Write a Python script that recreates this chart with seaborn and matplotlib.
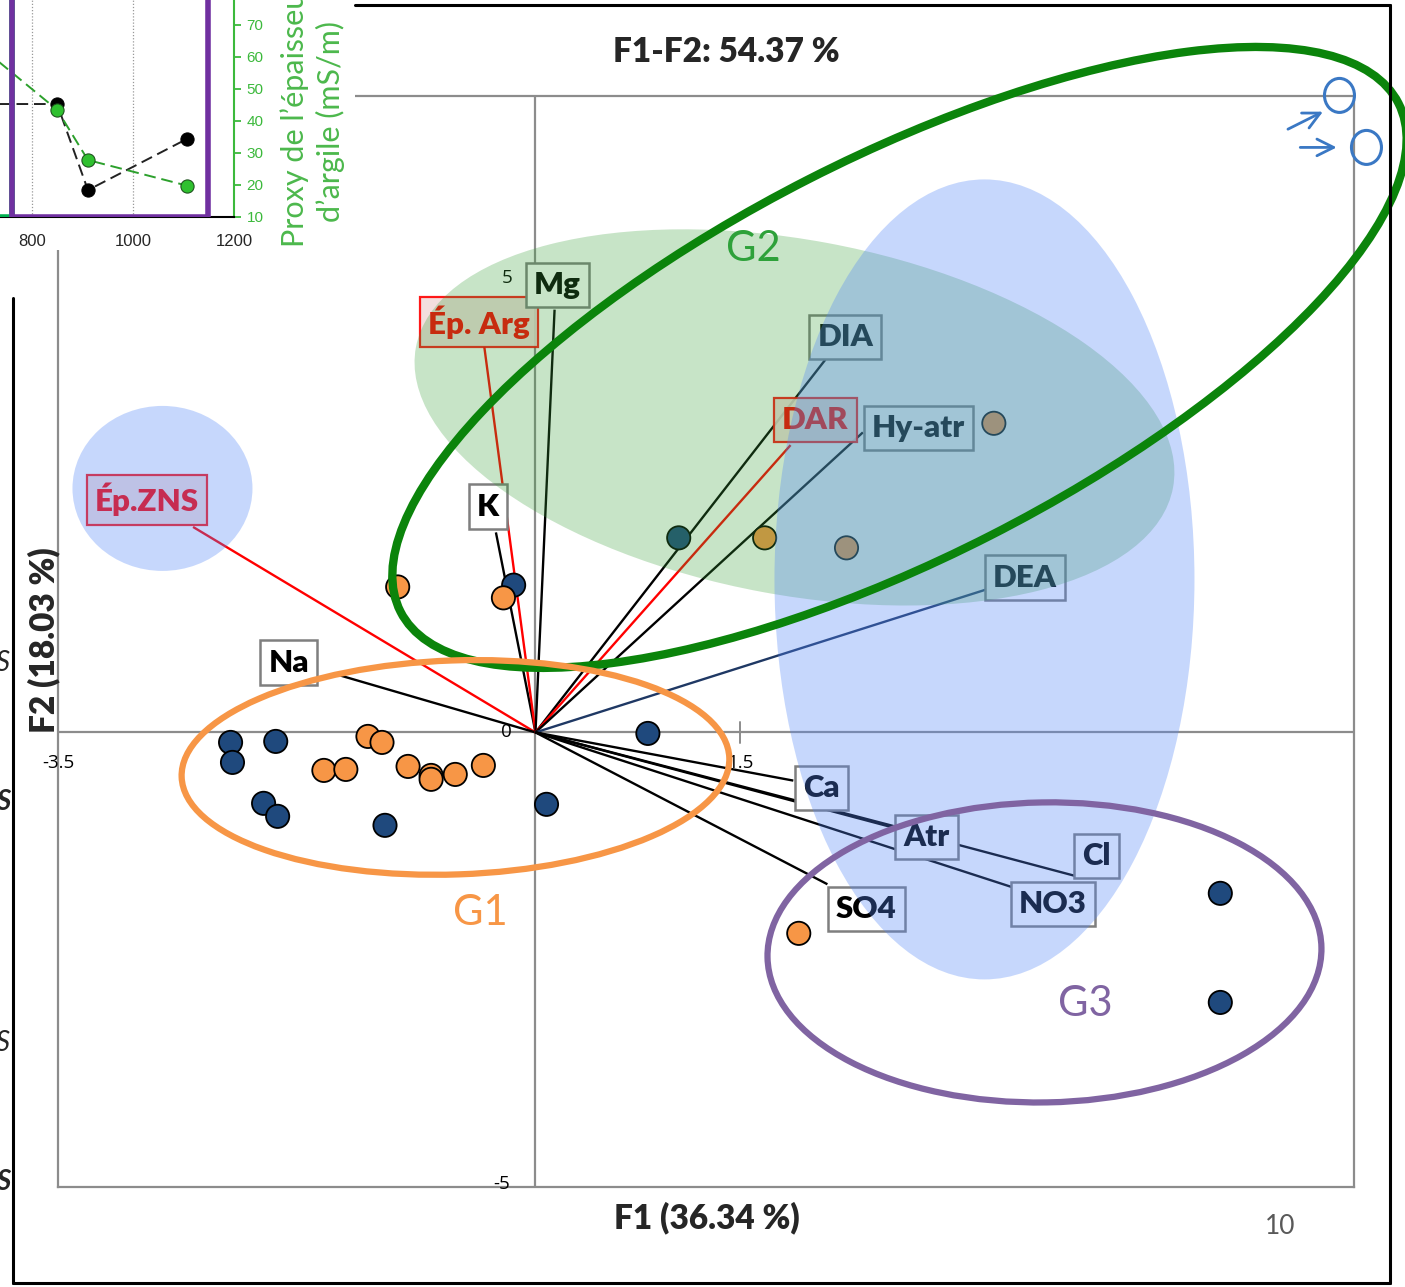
import numpy as np
import pandas as pd
import matplotlib
matplotlib.use("Agg")
import matplotlib.pyplot as plt
from matplotlib.patches import Ellipse, Rectangle
from matplotlib.transforms import Affine2D
from matplotlib.lines import Line2D
import seaborn as sns

# ---------------- PCA biplot data ----------------
# observation scores (F1, F2)
navy_f1 = [-2.235, -2.221, -1.904, -1.993, -1.890, -1.103, 0.081, 0.824, 1.05, -0.16, 5.02, 5.02]
navy_f2 = [-0.11, -0.33, -0.099, -0.78, -0.923, -1.022, -0.791, -0.011, 2.14, 1.62, -1.77, -2.97]
orange_f1 = [-1.01, -0.235, -1.228, -1.125, -1.551, -1.39, -0.934, -0.765, -0.765, -0.588, -0.382,
             1.68, 2.28, 3.36, 1.93]
orange_f2 = [1.60, 1.48, -0.044, -0.11, -0.418, -0.407, -0.374, -0.473, -0.516, -0.462, -0.363,
             2.14, 2.03, 3.40, -2.21]

# variable loadings (vector tips)
variables = ["Ép.ZNS", "Na", "K", "Ép. Arg", "Mg", "DIA", "DAR", "Hy-atr", "DEA",
             "Ca", "Atr", "Cl", "NO3", "SO4"]
load_f1 = [-2.51, -1.44, -0.29, -0.375, 0.14, 2.125, 1.87, 2.40, 3.30, 1.89, 2.625, 3.96, 3.49, 2.14]
load_f2 = [2.26, 0.63, 2.20, 4.24, 4.65, 4.10, 3.16, 3.30, 1.57, -0.53, -1.03, -1.58, -1.70, -1.67]
red_vars = {"Ép.ZNS", "Ép. Arg", "DAR"}
navy_vars = {"DEA"}

# label anchor points for the variable names
label_f1 = [-2.846, -1.809, -0.346, -0.412, 0.162, 2.272, 2.051, 2.809, 3.588, 2.096, 2.868, 4.110, 3.794, 2.426]
label_f2 = [2.560, 0.769, 2.484, 4.516, 4.923, 4.352, 3.440, 3.352, 1.703, -0.615, -1.154, -1.363, -1.890, -1.945]

title = "F1-F2: 54.37 %"
xlabel = "F1 (36.34 %)"
ylabel = "F2 (18.03 %)"

# ---------------- inset profile data ----------------
inset_x = [700, 850, 911, 1107]
inset_green = [63, 43.5, 27.8, 19.8]
inset_black = [45.3, 45.3, 18.4, 34.4]
inset_xticks = [800, 1000, 1200]
inset_yticks = [10, 20, 30, 40, 50, 60, 70]

sns.set_style("white")
plt.rcParams["font.family"] = ["Lato", "DejaVu Sans"]

W, H = 1405, 1287
fig = plt.figure(figsize=(W / 100, H / 100), dpi=100)


def fx(px):
    return px / W


def fy(py):
    return 1 - py / H


# ---------------- main biplot ----------------
x0, x1, y0, y1 = 58, 1354, 96, 1187
ax = fig.add_axes([fx(x0), fy(y1), fx(x1) - fx(x0), fy(y0) - fy(y1)])
xmin, xmax, ymin, ymax = -3.5, 6, -5, 7
ax.set_xlim(xmin, xmax)
ax.set_ylim(ymin, ymax)
ax.set_xticks([])
ax.set_yticks([])
for s in ax.spines.values():
    s.set_color("#8c8c8c")
    s.set_linewidth(1.6)

ax.axhline(0, color="#8c8c8c", lw=1.6, zorder=1)
ax.axvline(0, color="#8c8c8c", lw=1.6, zorder=1)
ax.plot([1.5, 1.5], [-0.12, 0.12], color="#8c8c8c", lw=1.4, zorder=1)

tick_kw = dict(fontsize=13.5, color="black", ha="center", va="center",
               family=["Open Sans", "DejaVu Sans"], zorder=3)
ax.text(-3.5, -0.34, "-3.5", **tick_kw)
ax.text(-0.21, 0.0, "0", **tick_kw)
ax.text(1.5, -0.34, "1.5", **tick_kw)
ax.text(-0.21, 5.0, "5", **tick_kw)
ax.text(-0.25, -4.97, "-5", **tick_kw)

# pixel-geometry helper so ellipses keep their on-screen shape
sx = (x1 - x0) / (xmax - xmin)
sy = (y1 - y0) / (ymax - ymin)
pix = Affine2D().scale(1 / sx, 1 / sy) + ax.transData


def px_ellipse(cx, cy, w, h, angle=0, **kw):
    e = Ellipse((cx * sx, cy * sy), w, h, angle=angle, transform=pix, **kw)
    ax.add_patch(e)
    return e


# variable vectors
for v, a, b in zip(variables, load_f1, load_f2):
    col = "#ff0000" if v in red_vars else ("#1f3864" if v in navy_vars else "black")
    ax.plot([0, a], [0, b], color=col, lw=1.7, zorder=2, solid_capstyle="butt")

# variable labels
for v, a, b in zip(variables, label_f1, label_f2):
    if v in red_vars:
        box = dict(boxstyle="square,pad=0.26", fc="#f2dcdb", ec="#ff0000", lw=1.6, alpha=0.9)
        tc = "#ff0000"
    else:
        box = dict(boxstyle="square,pad=0.26", fc="white", ec="#7f7f7f", lw=1.8)
        tc = "black"
    ax.text(a, b, v, fontsize=22.5, fontweight="heavy", color=tc, ha="center", va="center",
            bbox=box, zorder=3)

# observations
obs = pd.DataFrame({
    "F1": navy_f1 + orange_f1,
    "F2": navy_f2 + orange_f2,
    "type": ["navy"] * len(navy_f1) + ["orange"] * len(orange_f1),
})
sns.scatterplot(data=obs, x="F1", y="F2", hue="type",
                palette={"navy": "#1f497d", "orange": "#f79646"},
                s=280, edgecolor="black", linewidth=1.3, legend=False, ax=ax, zorder=4)
ax.set_xlabel("")
ax.set_ylabel("")

# shaded zones
px_ellipse((795 - 536) / sx, (733 - 418) / sy, 770, 355, angle=-10.5,
           fc=(0.22, 0.62, 0.22), alpha=0.28, lw=0, zorder=5)
px_ellipse((985 - 536) / sx, (733 - 580) / sy, 420, 800, angle=0,
           fc=(0.33, 0.53, 0.97), alpha=0.33, lw=0, zorder=5)
px_ellipse((163 - 536) / sx, (733 - 489) / sy, 180, 165, angle=0,
           fc=(0.33, 0.53, 0.97), alpha=0.33, lw=0, zorder=5)

# group outlines
px_ellipse((900 - 536) / sx, (733 - 358) / sy, 1120, 400, angle=27,
           fc="none", ec="#0b840b", lw=6, zorder=6, clip_on=False)
px_ellipse((456 - 536) / sx, (733 - 768) / sy, 548, 214, angle=2,
           fc="none", ec="#f79646", lw=4.5, zorder=6, clip_on=False)
px_ellipse((1045 - 536) / sx, (733 - 953) / sy, 554, 300, angle=1,
           fc="none", ec="#8064a2", lw=4.5, zorder=6, clip_on=False)

ax.text((481 - 536) / sx, (733 - 914) / sy, "G1", fontsize=30, color="#f79646",
        ha="center", va="center", zorder=7)
ax.text((754 - 536) / sx, (733 - 250) / sy, "G2", fontsize=30, color="#2ea13a",
        ha="center", va="center", zorder=7)
ax.text((1086 - 536) / sx, (733 - 1005) / sy, "G3", fontsize=30, color="#8064a2",
        ha="center", va="center", zorder=7)

# hand-drawn markers in the top-right corner
blue = "#3a78c4"
px_ellipse((1340 - 536) / sx, (733 - 96) / sy, 30, 34, fc="none", ec=blue, lw=2.2,
           zorder=7, clip_on=False)
px_ellipse((1367 - 536) / sx, (733 - 148) / sy, 30, 34, fc="none", ec=blue, lw=2.2,
           zorder=7, clip_on=False)
for (ax0, ay0), (ax1, ay1) in [((1286, 131), (1326, 111)), ((1298, 148), (1340, 148))]:
    ax.annotate("", xy=((ax1 - 536) / sx, (733 - ay1) / sy),
                xytext=((ax0 - 536) / sx, (733 - ay0) / sy),
                arrowprops=dict(arrowstyle="->", color=blue, lw=2.0, mutation_scale=30),
                annotation_clip=False, zorder=7)

ax.text(0.516, 1.0403, title, transform=ax.transAxes, fontsize=24, fontweight="heavy",
        ha="center", va="center")
ax.text(0.5008, -0.0284, xlabel, transform=ax.transAxes, fontsize=24, fontweight="heavy",
        ha="center", va="center")
ax.text(-0.0108, 0.5014, ylabel, transform=ax.transAxes, fontsize=24, fontweight="heavy",
        ha="center", va="center", rotation=90)

# ---------------- surrounding page elements ----------------
fig.patches.append(Rectangle((0, fy(250)), fx(355), 1 - fy(250), transform=fig.transFigure,
                             fc="white", ec="none", zorder=4))
for (a, b), (c, d) in [((355, 5), (1390, 5)), ((1390, 5), (1390, 1283)),
                       ((13, 1283), (1390, 1283)), ((13, 298), (13, 1283))]:
    fig.add_artist(Line2D([fx(a), fx(c)], [fy(b), fy(d)], color="black", lw=2.2, zorder=8))
fig.text(fx(1280), fy(1227), "10", fontsize=19, color="#595959", ha="center", va="center")
for yy, bold in [(663, False), (802, True), (1043, False), (1182, True)]:
    fig.text(fx(3), fy(yy), "S", fontsize=20, style="italic",
             fontweight="bold" if bold else "normal", ha="center", va="center", zorder=8)

# ---------------- inset profile ----------------
green_ax = "#3cb93c"
iax = fig.add_axes([0, fy(217), fx(234), fy(0) - fy(217)], zorder=5)
iax.set_xlim(737, 1200)
iax.set_ylim(10, 77.8)
iax.set_facecolor("white")
for v in inset_xticks[:2]:
    iax.axvline(v, color="#999999", lw=0.9, ls=(0, (1, 1.5)), zorder=1)
sns.lineplot(x=inset_x, y=inset_black, ax=iax, color="#222222", lw=1.4,
             linestyle=(0, (6, 3)), marker="o", markersize=9.5, markerfacecolor="black",
             markeredgecolor="black", sort=False, zorder=3)
sns.lineplot(x=inset_x, y=inset_green, ax=iax, color="#2ca02c", lw=1.4,
             linestyle=(0, (6, 3)), marker="o", markersize=9.5, markerfacecolor="#2fc02f",
             markeredgecolor="#1b4d1b", sort=False, zorder=4)
iax.add_patch(Rectangle((700, 10), 60, 100, fc="none", ec="#00b050", lw=4, zorder=5))
iax.add_patch(Rectangle((760, 10), 388, 100, fc="none", ec="#7030a0", lw=4, zorder=5))
iax.spines["top"].set_visible(False)
iax.spines["left"].set_visible(False)
iax.spines["bottom"].set_color("black")
iax.spines["bottom"].set_linewidth(1.5)
iax.spines["right"].set_color(green_ax)
iax.spines["right"].set_linewidth(1.5)
iax.set_xticks(inset_xticks)
iax.set_xticklabels([str(t) for t in inset_xticks], fontsize=12,
                    family=["Liberation Sans", "DejaVu Sans"])
iax.tick_params(axis="x", length=0, pad=12)
iax.yaxis.tick_right()
iax.set_yticks(inset_yticks)
iax.set_yticklabels([str(t) for t in inset_yticks], fontsize=11, color=green_ax,
                    family=["Liberation Sans", "DejaVu Sans"])
iax.tick_params(axis="y", right=True, length=5, width=1.3, color=green_ax, pad=4)
iax.set_xlabel("")
iax.set_ylabel("")

fig.text(fx(295), fy(114), "Proxy de l’épaisseur", rotation=90, fontsize=22,
         color="#4cb84c", ha="center", va="center", zorder=9)
fig.text(fx(330), fy(121), "d’argile (mS/m)", rotation=90, fontsize=22,
         color="#4cb84c", ha="center", va="center", zorder=9)

fig.savefig("out.png", dpi=100)
